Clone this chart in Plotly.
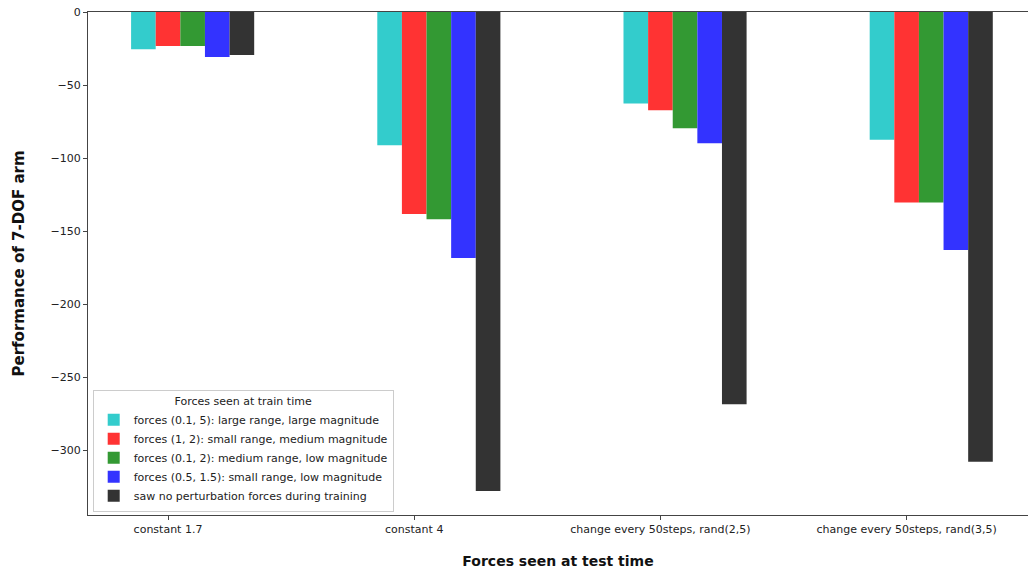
import plotly.graph_objects as go

categories = ["constant 1.7", "constant 4", "change every 50steps, rand(2,5)", "change every 50steps, rand(3,5)"]
series_names = [
    "forces (0.1, 5): large range, large magnitude",
    "forces (1, 2): small range, medium magnitude",
    "forces (0.1, 2): medium range, low magnitude",
    "forces (0.5, 1.5): small range, low magnitude",
    "saw no perturbation forces during training",
]
series_colors = ["#33CCCC", "#FF3333", "#339933", "#3333FF", "#333333"]

cyan_vals = [-25.5, -91.3, -62.6, -87.5]
red_vals = [-23.3, -138.4, -67.3, -130.4]
green_vals = [-23.3, -142.0, -79.6, -130.4]
blue_vals = [-30.8, -168.5, -89.9, -163.0]
dark_vals = [-29.5, -328.1, -268.7, -308.0]
series_values = [cyan_vals, red_vals, green_vals, blue_vals, dark_vals]

y_ticks = [0, -50, -100, -150, -200, -250, -300]

bar_width = 0.1
group_pos = list(range(len(categories)))

fig = go.Figure()
for i, (name, vals, col) in enumerate(zip(series_names, series_values, series_colors)):
    fig.add_trace(go.Bar(
        x=[g + i * bar_width for g in group_pos],
        y=vals,
        width=bar_width,
        name=name,
        marker=dict(color=col, line=dict(width=0)),
    ))

font_family = "DejaVu Sans"
fig.update_layout(
    width=1028, height=573,
    margin=dict(l=88, r=0, t=12, b=58),
    paper_bgcolor="white", plot_bgcolor="white",
    barmode="overlay",
    font=dict(family=font_family, size=11, color="#222"),
    showlegend=True,
    legend=dict(
        x=0.005, y=0.006, xanchor="left", yanchor="bottom",
        bgcolor="rgba(255,255,255,0.8)", bordercolor="#cccccc", borderwidth=1,
        font=dict(family=font_family, size=11, color="#222"),
        title=dict(text="Forces seen at train time", side="top center",
                   font=dict(family=font_family, size=11, color="#222")),
        tracegroupgap=0,
    ),
    xaxis=dict(
        range=[-0.225, 3.593],
        tickmode="array",
        tickvals=[g + bar_width for g in group_pos],
        ticktext=categories,
        ticks="outside", ticklen=4, tickcolor="#444",
        showline=True, linecolor="#444", linewidth=1, mirror=True,
        showgrid=False, zeroline=False, automargin=False,
        title=dict(text="<b>Forces seen at test time</b>", font=dict(family=font_family, size=14, color="#111"), standoff=20),
    ),
    yaxis=dict(
        range=[-344.5, 0],
        tickmode="array",
        tickvals=y_ticks,
        ticks="outside", ticklen=4, tickcolor="#444",
        ticklabeloverflow="allow",
        showline=True, linecolor="#444", linewidth=1,
        showgrid=False, zeroline=False, automargin=False,
        title=dict(text="<b>Performance of 7-DOF arm</b>", font=dict(family=font_family, size=15, color="#111"), standoff=22),
    ),
)

# remove the default 8px page margin so the figure fills the window exactly
fig.write_html("out.html", config={"displayModeBar": False},
               post_script="document.body.style.margin='0px';")
